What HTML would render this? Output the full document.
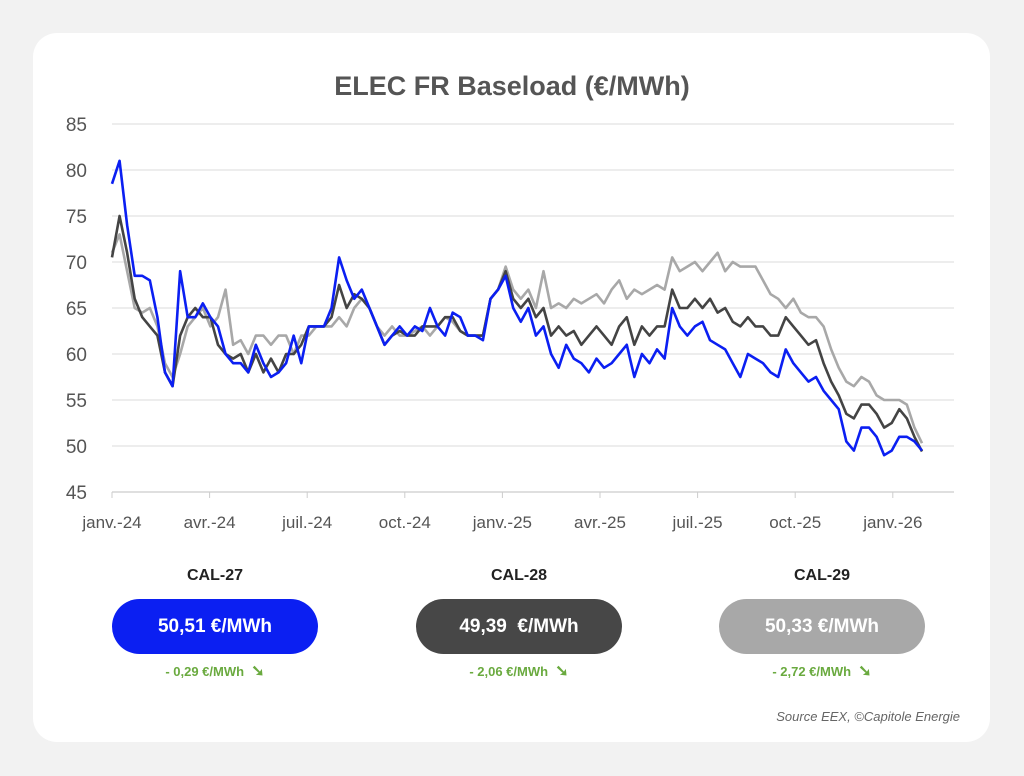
<!DOCTYPE html>
<html><head><meta charset="utf-8"><style>
body{margin:0;width:1024px;height:776px;background:#f2f2f2;font-family:"Liberation Sans",sans-serif;position:relative;overflow:hidden}
.card{position:absolute;left:33px;top:33px;width:957px;height:709px;background:#fff;border-radius:24px}
.t{position:absolute;text-align:center}
.cal{font-weight:bold;font-size:16px;color:#222;width:206px;top:567px}
.pill{top:599px;width:206px;height:55px;border-radius:28px;color:#fff;font-weight:bold;font-size:19px;line-height:55px}
.chg{top:661px;width:206px;color:#6aaa3f;font-weight:bold;font-size:13px}
.chg b{font-size:16px}
</style></head><body>
<div class="card"></div>
<svg id="chart" width="1024" height="776" style="position:absolute;left:0;top:0">
<text x="512" y="95" text-anchor="middle" font-size="27" font-weight="bold" fill="#555" font-family="Liberation Sans, sans-serif">ELEC FR Baseload (€/MWh)</text>
<g id="grid"></g><g id="xl"></g><g id="lines"></g>
</svg>
<div class="t cal" style="left:112px">CAL-27</div>
<div class="t cal" style="left:416px">CAL-28</div>
<div class="t cal" style="left:719px">CAL-29</div>
<div class="t pill" style="left:112px;background:#0b1ff2">50,51 €/MWh</div>
<div class="t pill" style="left:416px;background:#474747">49,39 &nbsp;€/MWh</div>
<div class="t pill" style="left:719px;background:#a8a8a8">50,33 €/MWh</div>
<div class="t chg" style="left:112px">- 0,29 €/MWh &nbsp;<b>➘</b></div>
<div class="t chg" style="left:416px">- 2,06 €/MWh &nbsp;<b>➘</b></div>
<div class="t chg" style="left:719px">- 2,72 €/MWh &nbsp;<b>➘</b></div>
<div class="t" style="right:64px;top:709px;font-style:italic;font-size:13px;color:#666">Source EEX, ©Capitole Energie</div>
<script>
const yTicks=[45,50,55,60,65,70,75,80,85];
const xLabels=["janv.-24","avr.-24","juil.-24","oct.-24","janv.-25","avr.-25","juil.-25","oct.-25","janv.-26"];
const cal27=[78.5,81,74,68.5,68.5,68,64,58,56.5,69,64,64,65.5,64,63,60,59,59,58,61,59,57.5,58,59,62,59,63,63,63,65,70.5,68,66,67,65,63,61,62,63,62,63,62.5,65,63,62,64.5,64,62,62,61.5,66,67,68.5,65,63.5,65,62,63,60,58.5,61,59.5,59,58,59.5,58.5,59,60,61,57.5,60,59,60.5,59.5,65,63,62,63,63.5,61.5,61,60.5,59,57.5,60,59.5,59,58,57.5,60.5,59,58,57,57.5,56,55,54,50.5,49.5,52,52,51,49,49.5,51,51,50.5,49.5];
const cal28=[70.5,75,71,66,64,63,62,58,56.5,62,64,65,64,64,61,60,59.5,60,58,60,58,59.5,58,60,60,61,63,63,63,64,67.5,65,66.5,66,65,63,61,62,62.5,62,62,63,63,63,64,64,62.5,62,62,62,66,67,69,66,65,66,64,65,62,63,62,62.5,61,62,63,62,61,63,64,61,63,62,63,63,67,65,65,66,65,66,64.5,65,63.5,63,64,63,63,62,62,64,63,62,61,61.5,59,57,55.5,53.5,53,54.5,54.5,53.5,52,52.5,54,53,51,49.4];
const cal29=[71,73,69,65,64.5,65,63,59,57.5,60,63,64,65,63,64,67,61,61.5,60,62,62,61,62,62,60,62,62,63,63,63,64,63,65,66,65,63,62,63,62,62,62.5,63,62,63,64,63.5,62.5,62,62,62,66,67,69.5,67,66,67,65,69,65,65.5,65,66,65.5,66,66.5,65.5,67,68,66,67,66.5,67,67.5,67,70.5,69,69.5,70,69,70,71,69,70,69.5,69.5,69.5,68,66.5,66,65,66,64.5,64,64,63,60.5,58.5,57,56.5,57.5,57,55.5,55,55,55,54.5,52,50.3];
const NS="http://www.w3.org/2000/svg";
function y(v){return 492-(v-45)*9.2}
function xw(i,n){return 112+i*(922-112)/(n-1)}
function xq(q){return 112+q*97.6}
function mk(tag,attrs,parent){const e=document.createElementNS(NS,tag);for(const k in attrs)e.setAttribute(k,attrs[k]);document.getElementById(parent).appendChild(e);return e}
yTicks.forEach(v=>{
 const l=mk('line',{x1:112,x2:954,y1:y(v),y2:y(v),stroke:v===45?'#ccc':'#e2e2e2','stroke-width':1.3},'grid');
 
 
 const t=mk('text',{x:87,y:y(v)+7,'text-anchor':'end','font-size':19,fill:'#555','font-family':'Liberation Sans, sans-serif'},'grid');
 t.textContent=v;
 
 
});
xLabels.forEach((s,i)=>{
 const tk=mk('line',{x1:xq(i),x2:xq(i),y1:492,y2:498,stroke:'#ccc'},'xl');
 
 
 const t=mk('text',{x:xq(i),y:528,'text-anchor':'middle','font-size':17,fill:'#555','font-family':'Liberation Sans, sans-serif'},'xl');
 t.textContent=s;
 
 
});
[[cal29,'#a8a8a8','cal29-line'],[cal28,'#444','cal28-line'],[cal27,'#0b1ff2','cal27-line']].forEach(([d,c,n])=>{
 const p=mk('polyline',{points:d.map((v,i)=>xw(i,d.length)+','+y(v)).join(' '),fill:'none',stroke:c,'stroke-width':2.6,'stroke-linejoin':'round'},'lines');
 
 
});
</script>
</body></html>
